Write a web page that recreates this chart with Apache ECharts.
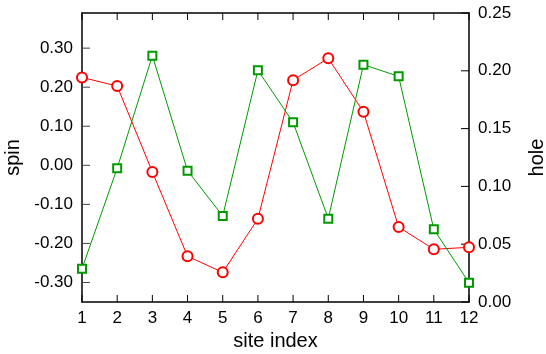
<!DOCTYPE html>
<html>
<head>
<meta charset="utf-8">
<script src="https://cdn.jsdelivr.net/npm/echarts@6/dist/echarts.min.js"></script>
<style>html,body{margin:0;padding:0;background:#fff}#c{width:546px;height:354px}</style>
</head>
<body>
<div id="c"></div>
<script>
var siteIndex = [1, 2, 3, 4, 5, 6, 7, 8, 9, 10, 11, 12];
var spin = [0.225, 0.203, -0.017, -0.233, -0.274, -0.137, 0.218, 0.274, 0.137, -0.158, -0.215, -0.210];
var hole = [0.0288, 0.1157, 0.2131, 0.1136, 0.0744, 0.2004, 0.1554, 0.0721, 0.2053, 0.1952, 0.0629, 0.0167];
var spinTicks = [-0.3, -0.2, -0.1, 0, 0.1, 0.2, 0.3];
var holeTicks = [0, 0.05, 0.1, 0.15, 0.2, 0.25];
var spinRange = [-0.35, 0.39];

var FONT = 'Liberation Sans';
var chart = echarts.init(document.getElementById('c'));
function pairs(xs, ys) { return xs.map(function (x, i) { return [x, ys[i]]; }); }
function fmt2(v) { var s = Math.abs(v) < 1e-9 ? 0 : v; return s.toFixed(2); }
function seg(a, b, col) {
  return {type: 'line', shape: {x1: a[0], y1: a[1], x2: b[0], y2: b[1]},
          style: {stroke: col || '#000', lineWidth: 1}};
}
var xFirst = siteIndex[0], xLast = siteIndex[siteIndex.length - 1];

chart.setOption({
  animation: false,
  grid: {left: 82, right: 77, top: 13, bottom: 52, outerBoundsMode: 'none'},
  xAxis: [{
    type: 'value', min: xFirst, max: xLast, interval: 1,
    name: 'site index', nameLocation: 'middle', nameGap: 26,
    nameTextStyle: {fontFamily: FONT, fontSize: 20, color: '#000'},
    axisLine: {show: true, onZero: false, lineStyle: {color: '#000', width: 1.5}},
    axisTick: {show: false},
    axisLabel: {fontFamily: FONT, fontSize: 17, color: '#000', margin: 8},
    splitLine: {show: false}
  }, {
    type: 'value', min: xFirst, max: xLast, interval: 1, position: 'top',
    axisLine: {show: true, onZero: false, lineStyle: {color: '#000', width: 1.5}},
    axisTick: {show: false},
    axisLabel: {show: false},
    splitLine: {show: false}
  }],
  yAxis: [{
    type: 'value', min: spinRange[0], max: spinRange[1],
    name: 'spin', nameLocation: 'middle', nameGap: 53, nameRotate: 90,
    nameTextStyle: {fontFamily: FONT, fontSize: 20, color: '#000'},
    axisLine: {show: true, onZero: false, lineStyle: {color: '#000', width: 1.5}},
    axisTick: {show: false},
    axisLabel: {fontFamily: FONT, fontSize: 17, color: '#000', margin: 9, customValues: spinTicks, formatter: fmt2},
    splitLine: {show: false}
  }, {
    type: 'value', min: 0, max: 0.25, interval: 0.05, position: 'right',
    name: 'hole', nameLocation: 'middle', nameGap: 58, nameRotate: 90,
    nameTextStyle: {fontFamily: FONT, fontSize: 20, color: '#000'},
    axisLine: {show: true, onZero: false, lineStyle: {color: '#000', width: 1.5}},
    axisTick: {show: false},
    axisLabel: {fontFamily: FONT, fontSize: 17, color: '#000', margin: 9, formatter: fmt2},
    splitLine: {show: false}
  }],
  series: [{
    name: 'xticks', type: 'custom', xAxisIndex: 0, yAxisIndex: 0, silent: true, clip: false, z: 1,
    data: siteIndex.map(function (x) { return [x, 0]; }),
    renderItem: function (params, api) {
      var x = api.value(0);
      var b = api.coord([x, spinRange[0]]);
      var t = api.coord([x, spinRange[1]]);
      return {type: 'group', children: [
        seg([b[0], b[1]], [b[0], b[1] - 7]),
        seg([t[0], t[1]], [t[0], t[1] + 7])
      ]};
    }
  }, {
    name: 'spinticks', type: 'custom', xAxisIndex: 0, yAxisIndex: 0, silent: true, clip: false, z: 1,
    data: spinTicks.map(function (v) { return [xFirst, v]; }),
    renderItem: function (params, api) {
      var p = api.coord([api.value(0), api.value(1)]);
      return seg([p[0], p[1]], [p[0] + 8, p[1]], '#444');
    }
  }, {
    name: 'holeticks', type: 'custom', xAxisIndex: 0, yAxisIndex: 1, silent: true, clip: false, z: 1,
    data: holeTicks.map(function (v) { return [xLast, v]; }),
    renderItem: function (params, api) {
      var p = api.coord([api.value(0), api.value(1)]);
      return seg([p[0], p[1]], [p[0] - 8, p[1]]);
    }
  }, {
    name: 'spin', type: 'line', xAxisIndex: 0, yAxisIndex: 0, z: 3,
    data: pairs(siteIndex, spin),
    symbol: 'emptyCircle', symbolSize: 10,
    lineStyle: {color: '#ff0000', width: 1},
    itemStyle: {color: '#ff0000', borderColor: '#ff0000', borderWidth: 1.5}
  }, {
    name: 'hole', type: 'line', xAxisIndex: 0, yAxisIndex: 1, z: 3,
    data: pairs(siteIndex, hole),
    symbol: 'emptyRect', symbolSize: 8,
    lineStyle: {color: '#009900', width: 1},
    itemStyle: {color: '#009900', borderColor: '#009900', borderWidth: 1.5}
  }]
});
</script>
</body>
</html>
